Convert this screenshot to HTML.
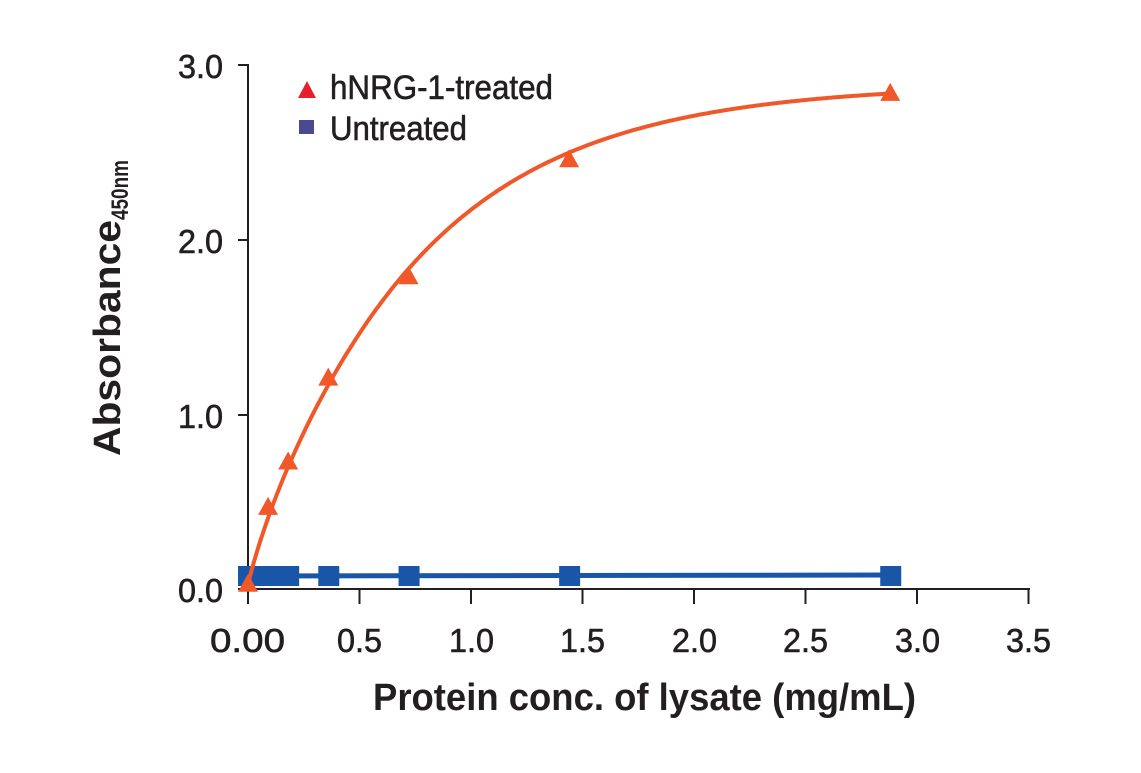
<!DOCTYPE html>
<html><head><meta charset="utf-8"><style>
body{margin:0;background:#fff;}
svg text{font-family:"Liberation Sans",sans-serif;fill:#231f20;}
.m{stroke:#231f20;stroke-width:0.6;}
</style></head><body>
<svg id="s" width="1141" height="768" viewBox="0 0 1141 768" xmlns="http://www.w3.org/2000/svg">
<g stroke="#231f20" stroke-width="2" fill="none">
<path d="M238 65H248V589H1030"/>
<path d="M238 240H248M238 415H248M238 589H248"/>
<path d="M248 589V604M359.5 589V604M471 589V604M582.5 589V604M694 589V604M805.5 589V604M917 589V604M1028.5 589V604"/>
</g>
<g font-size="33" class="m">
<text x="178" y="78" textLength="45" lengthAdjust="spacingAndGlyphs">3.0</text>
<text x="178" y="253" textLength="45" lengthAdjust="spacingAndGlyphs">2.0</text>
<text x="178" y="428" textLength="45" lengthAdjust="spacingAndGlyphs">1.0</text>
<text x="178" y="602" textLength="45" lengthAdjust="spacingAndGlyphs">0.0</text>
<text x="210" y="652" textLength="75" lengthAdjust="spacingAndGlyphs">0.00</text>
<text x="337" y="652" textLength="45" lengthAdjust="spacingAndGlyphs">0.5</text>
<text x="449" y="652" textLength="45" lengthAdjust="spacingAndGlyphs">1.0</text>
<text x="560" y="652" textLength="45" lengthAdjust="spacingAndGlyphs">1.5</text>
<text x="672" y="652" textLength="45" lengthAdjust="spacingAndGlyphs">2.0</text>
<text x="783" y="652" textLength="45" lengthAdjust="spacingAndGlyphs">2.5</text>
<text x="895" y="652" textLength="45" lengthAdjust="spacingAndGlyphs">3.0</text>
<text x="1006" y="652" textLength="45" lengthAdjust="spacingAndGlyphs">3.5</text>
</g>
<text x="373" y="710" font-size="38" font-weight="bold" textLength="543" lengthAdjust="spacingAndGlyphs">Protein conc. of lysate (mg/mL)</text>
<text transform="translate(120,456) rotate(-90)" font-size="38" font-weight="bold"><tspan textLength="236" lengthAdjust="spacingAndGlyphs">Absorbance</tspan><tspan font-size="24" dy="8" textLength="60" lengthAdjust="spacingAndGlyphs">450nm</tspan></text>
<polygon points="298,98 307,81 316,98" fill="#e4202a"/>
<text x="330" y="99" font-size="34" class="m" textLength="223" lengthAdjust="spacingAndGlyphs">hNRG-1-treated</text>
<rect x="299" y="120" width="15" height="14" fill="#4a4a94"/>
<text x="330" y="140" font-size="34" class="m" textLength="137" lengthAdjust="spacingAndGlyphs">Untreated</text>
<path d="M248 576L892 575" stroke="#1a56a8" stroke-width="5"/>
<g id="sq" fill="#1a56a8"></g>
<path id="curve" fill="none" stroke="#f0582a" stroke-width="4"/>
<g id="tri" fill="#f0582a"></g>
</svg>
<script>
var X=function(v){return 248+v*223},Y=function(v){return 589-v*174.7};
var xs=[0,0.09,0.18,0.36,0.72,1.44,2.88];
var ys=[0.03,0.47,0.73,1.21,1.79,2.46,2.84];
var d="";
for(var i=0;i<=400;i++){var x=i/400*2.88;
var y=2.86*(1-Math.exp(-1.38*x))+0.03+0.25*x*Math.exp(-x/0.12)*4;
d+=(i?"L":"M")+X(x).toFixed(1)+" "+Y(y).toFixed(1);}
document.getElementById("curve").setAttribute("d",d);
var t="",s="";
for(var i=0;i<xs.length;i++){var cx=X(xs[i]),cy=Y(ys[i]);
t+='<polygon points="'+(cx-10)+','+(cy+8)+' '+cx+','+(cy-10)+' '+(cx+10)+','+(cy+8)+'"/>';
s+='<rect x="'+(cx-10)+'" y="566" width="21" height="20"/>';}
document.getElementById("tri").innerHTML=t;
document.getElementById("sq").innerHTML=s;
</script>
</body></html>
